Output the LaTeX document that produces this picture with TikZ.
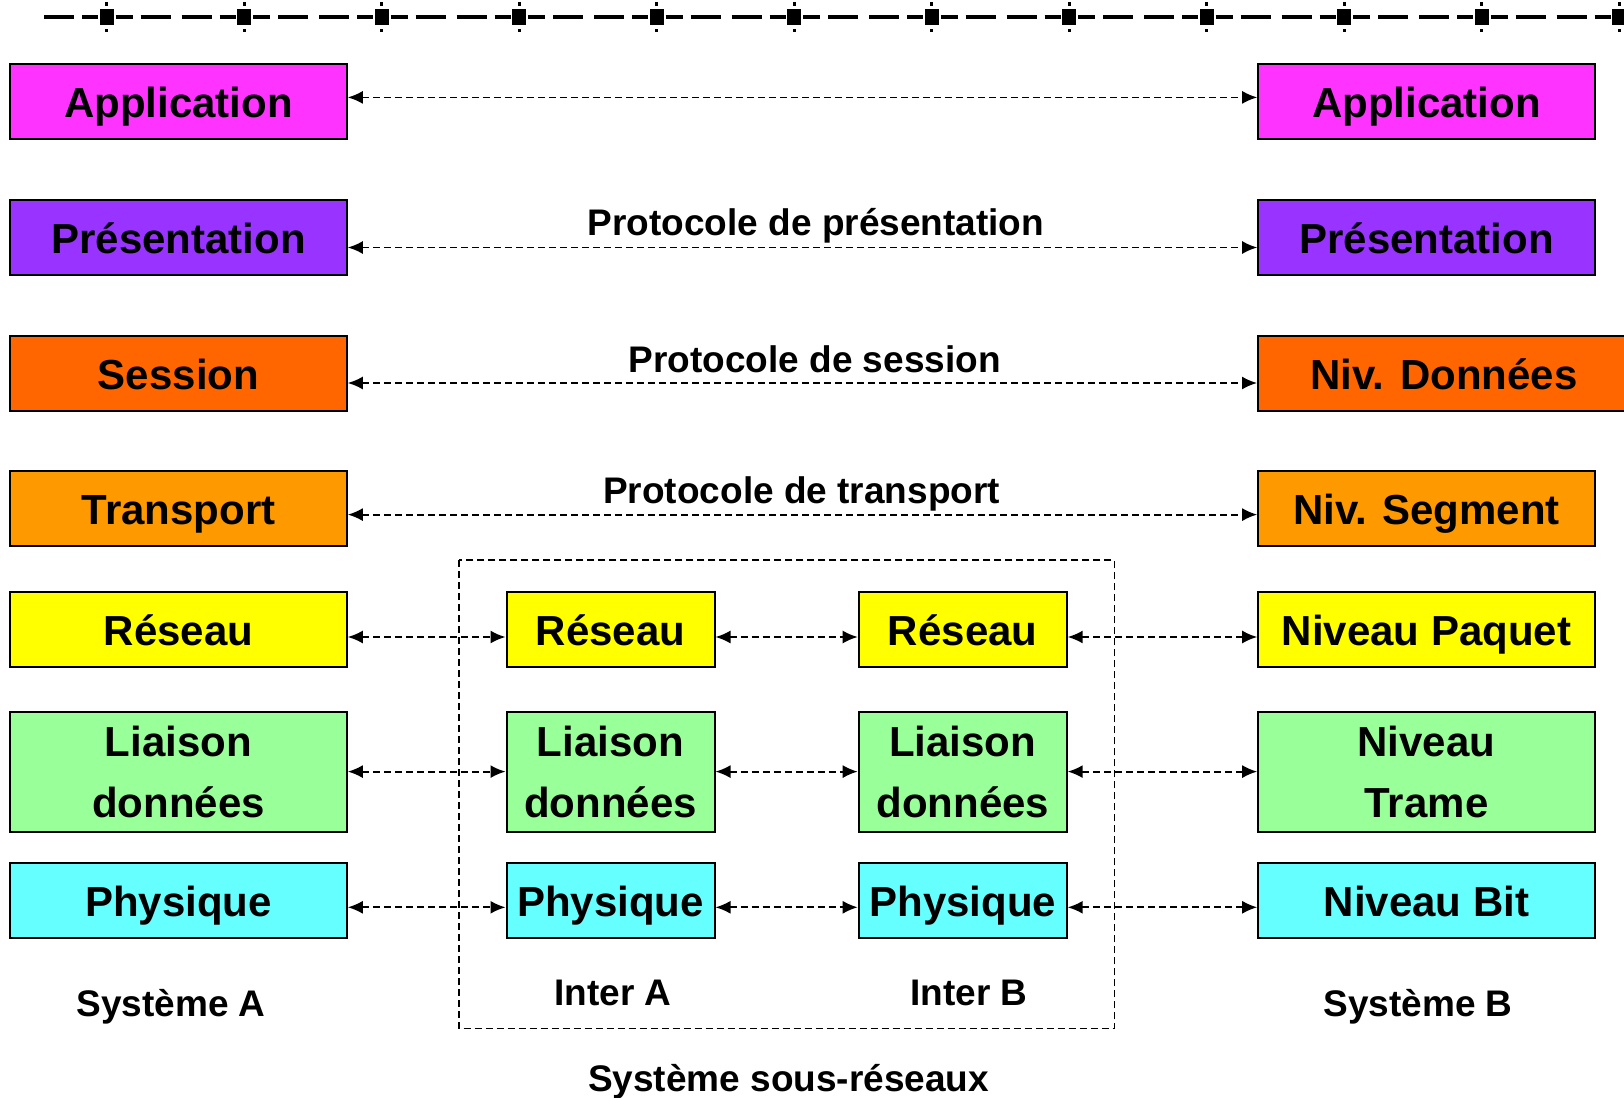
\documentclass[tikz,border=0pt]{standalone}
\usepackage{fontspec}
\setmainfont{Liberation Sans}
\usepackage{xcolor}
\usepackage{tikz}
\usetikzlibrary{arrows.meta}

\definecolor{appcol}{HTML}{FF33FF}
\definecolor{prescol}{HTML}{9933FF}
\definecolor{sesscol}{HTML}{FF6600}
\definecolor{transcol}{HTML}{FF9900}
\definecolor{rescol}{HTML}{FFFF00}
\definecolor{liaicol}{HTML}{99FF99}
\definecolor{physcol}{HTML}{66FFFF}

\begin{document}
\begin{tikzpicture}[x=0.5pt,y=-0.5pt]
	\tikzstyle{layer}=[draw=black,line width=1pt,inner sep=0pt,minimum height=37.5pt,align=center,font=\fontsize{21}{30.5}\selectfont\bfseries]
	\tikzstyle{one}=[text height=16pt,text depth=0pt]
	\tikzstyle{side}=[layer,minimum width=168.3pt]
	\tikzstyle{inter}=[layer,minimum width=104pt]
	\tikzstyle{peer}=[{Latex[length=7.5pt,width=6.5pt]}-{Latex[length=7.5pt,width=6.5pt]},dash pattern=on 3.5pt off 2pt,line width=0.9pt]
	\tikzstyle{lbl}=[inner sep=0pt,font=\fontsize{18.5}{22}\selectfont\bfseries]
	\useasboundingbox (0,0) rectangle (1624,1098);

	% ruler on top
	\draw[line width=2pt] (44,17) -- (74,17) (82,17) -- (98,17);
	\foreach \k in {0,...,11}{
		\pgfmathsetmacro{\c}{106.7+137.5*\k}
		\fill (\c-7,9) rectangle (\c+7,25);
		\fill (\c-1.5,2) rectangle (\c+1.5,5.5);
		\fill (\c-1.5,28.5) rectangle (\c+1.5,32);
		\draw[line width=2pt] (\c+9,17) -- (\c+26,17) (\c+34,17) -- (\c+64,17)
			(\c+75,17) -- (\c+105,17) (\c+113,17) -- (\c+129,17);
	}

	% sous-reseaux
	\draw[dash pattern=on 3.5pt off 2pt,line width=0.9pt] (458.8,560.3) rectangle (1114.4,1028.5);

	% systeme A
	\node[side,one,fill=appcol](a7) at (178.5,101){Application};
	\node[side,one,fill=prescol](a6) at (178.5,237){Présentation};
	\node[side,one,fill=sesscol](a5) at (178.5,373){Session};
	\node[side,one,fill=transcol](a4) at (178.5,508.6){Transport};
	\node[side,one,fill=rescol](a3) at (178.5,629){Réseau};
	\node[side,fill=liaicol,minimum height=60pt](a2) at (178.5,771.6){Liaison\\données};
	\node[side,one,fill=physcol](a1) at (178.5,900){Physique};

	% inter A
	\node[inter,one,fill=rescol](ia3) at (610.5,629){Réseau};
	\node[inter,fill=liaicol,minimum height=60pt](ia2) at (610.5,771.6){Liaison\\données};
	\node[inter,one,fill=physcol](ia1) at (610.5,900){Physique};

	% inter B
	\node[inter,one,fill=rescol](ib3) at (962.7,629){Réseau};
	\node[inter,fill=liaicol,minimum height=60pt](ib2) at (962.7,771.6){Liaison\\données};
	\node[inter,one,fill=physcol](ib1) at (962.7,900){Physique};

	% systeme B
	\node[side,one,fill=appcol](b7) at (1426.5,101){Application};
	\node[side,one,fill=prescol](b6) at (1426.5,237){Présentation};
	\node[layer,one,minimum width=186pt,fill=sesscol](b5) at (1444,373){Niv. Données};
	\node[side,one,fill=transcol](b4) at (1426.5,508.6){Niv. Segment};
	\node[side,one,fill=rescol](b3) at (1426.5,629){Niveau Paquet};
	\node[side,fill=liaicol,minimum height=60pt](b2) at (1426.5,771.6){Niveau\\Trame};
	\node[side,one,fill=physcol](b1) at (1426.5,900){Niveau Bit};

	% protocoles
	\draw[peer] ([yshift=1.8pt]a7.east) -- ([yshift=1.8pt]b7.west);
	\draw[peer] ([yshift=-5.25pt]a6.east) -- ([yshift=-5.25pt]b6.west);
	\draw[peer] ([yshift=-5pt]a5.east) -- ([yshift=-5pt]b5.west);
	\draw[peer] ([yshift=-3pt]a4.east) -- ([yshift=-3pt]b4.west);
	\path[peer]
		([yshift=-4pt]a3.east) edge ([yshift=-4pt]ia3.west)
		([yshift=-4pt]ia3.east) edge ([yshift=-4pt]ib3.west)
		([yshift=-4pt]ib3.east) edge ([yshift=-4pt]b3.west)
		(a2) edge (ia2)
		(ia2) edge (ib2)
		(ib2) edge (b2)
		([yshift=-3.65pt]a1.east) edge ([yshift=-3.65pt]ia1.west)
		([yshift=-3.65pt]ia1.east) edge ([yshift=-3.65pt]ib1.west)
		([yshift=-3.65pt]ib1.east) edge ([yshift=-3.65pt]b1.west);

	\node[lbl](p6) at (816,226){Protocole de présentation};
	\node[lbl](p5) at (814.6,359){Protocole de session};
	\node[lbl](p4) at (801.6,494){Protocole de transport};

	\node[lbl](sa) at (171,1007){Système A};
	\node[lbl](ta) at (613,993){Inter A};
	\node[lbl](tb) at (969,993){Inter B};
	\node[lbl](sb) at (1418,1007){Système B};
	\node[lbl](sr) at (788.7,1082){Système sous-réseaux};
\end{tikzpicture}
\end{document}
